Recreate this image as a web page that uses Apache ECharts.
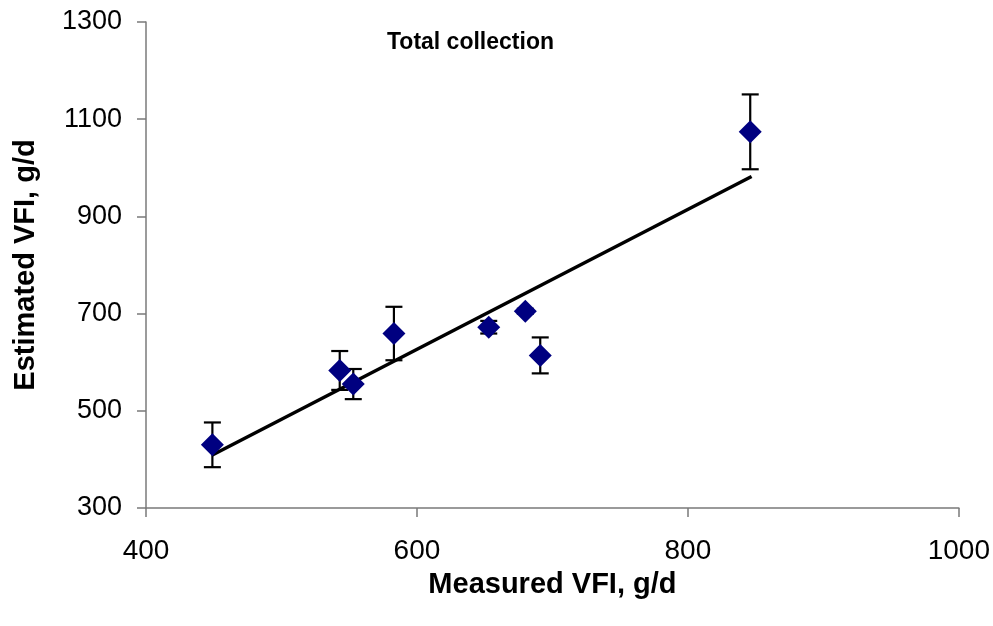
<!DOCTYPE html>
<html>
<head>
<meta charset="utf-8">
<script src="https://cdn.jsdelivr.net/npm/echarts@6/dist/echarts.min.js"></script>
<style>html,body{margin:0;padding:0;background:#fff}#c{width:993px;height:626px}</style>
</head>
<body>
<div id="c"></div>
<script>
const measured = [449, 543, 553, 583, 653, 680, 691, 846];
const estimated = [430, 583, 555, 659, 672, 705, 614, 1074];
const errorSD = [46, 40, 31, 55, 13, 5, 37, 77];
const trendX = [449, 847];
const trendY = [409, 982];
const xTicks = [400, 600, 800, 1000];
const yTicks = [300, 500, 700, 900, 1100, 1300];

const FONT = 'Arial, "Liberation Sans", sans-serif';
const pts = measured.map((x, i) => [x, estimated[i]]);
const errs = measured.map((x, i) => [x, estimated[i] - errorSD[i], estimated[i] + errorSD[i]]);
const trend = trendX.map((x, i) => [x, trendY[i]]);

const chart = echarts.init(document.getElementById('c'), null, {renderer: 'canvas'});
chart.setOption({
  animation: false,
  backgroundColor: '#fff',
  title: {
    text: 'Total collection',
    left: 382, top: 26,
    textStyle: {fontFamily: FONT, fontSize: 23, fontWeight: 'bold', color: '#000'}
  },
  grid: {left: 146, right: 33, top: 22, bottom: 118},
  xAxis: {
    type: 'value', min: xTicks[0], max: xTicks[xTicks.length - 1], interval: 200,
    name: 'Measured VFI, g/d', nameLocation: 'middle', nameGap: 62,
    nameTextStyle: {fontFamily: FONT, fontSize: 29, fontWeight: 'bold', color: '#000'},
    axisLine: {show: true, lineStyle: {color: '#7a7a7a', width: 1.5}},
    axisTick: {show: true, inside: false, length: 9, lineStyle: {color: '#7a7a7a', width: 1.5}},
    axisLabel: {fontFamily: FONT, fontSize: 28, color: '#000', margin: 29, formatter: v => String(v)},
    splitLine: {show: false}
  },
  yAxis: {
    type: 'value', min: yTicks[0], max: yTicks[yTicks.length - 1], interval: 200,
    name: 'Estimated VFI, g/d', nameLocation: 'middle', nameGap: 106, nameRotate: 90,
    nameTextStyle: {fontFamily: FONT, fontSize: 29, fontWeight: 'bold', color: '#000'},
    axisLine: {show: true, lineStyle: {color: '#7a7a7a', width: 1.5}},
    axisTick: {show: true, inside: false, length: 9, lineStyle: {color: '#7a7a7a', width: 1.5}},
    axisLabel: {fontFamily: FONT, fontSize: 27, color: '#000', margin: 24, formatter: v => String(v)},
    splitLine: {show: false}
  },
  series: [
    {
      type: 'line', data: trend, symbol: 'none', z: 2,
      lineStyle: {color: '#000', width: 3.5}
    },
    {
      type: 'custom', z: 3,
      data: errs,
      renderItem: function (params, api) {
        const x = api.value(0);
        const lo = api.coord([x, api.value(1)]);
        const hi = api.coord([x, api.value(2)]);
        const w = 8.5;
        const style = {stroke: '#000', lineWidth: 2.2};
        return {
          type: 'group',
          children: [
            {type: 'line', shape: {x1: lo[0], y1: lo[1], x2: hi[0], y2: hi[1]}, style: style},
            {type: 'line', shape: {x1: lo[0] - w, y1: lo[1], x2: lo[0] + w, y2: lo[1]}, style: style},
            {type: 'line', shape: {x1: hi[0] - w, y1: hi[1], x2: hi[0] + w, y2: hi[1]}, style: style}
          ]
        };
      }
    },
    {
      type: 'scatter', data: pts, symbol: 'diamond', symbolSize: 23, z: 4,
      itemStyle: {color: '#000080', opacity: 1}
    }
  ]
});
</script>
</body>
</html>
